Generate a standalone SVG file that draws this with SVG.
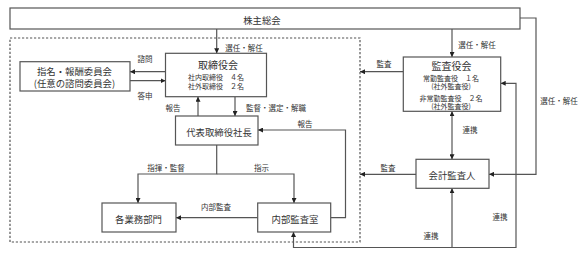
<svg xmlns="http://www.w3.org/2000/svg" width="585" height="259" viewBox="0 0 585 259">
<style>
text{font-family:"Noto Sans CJK JP","Noto Sans",sans-serif;fill:#333;text-anchor:middle;dominant-baseline:central}
.box{fill:#fff;stroke:#555;stroke-width:1.2}
.ln{fill:none;stroke:#555;stroke-width:1.2}
.dash{fill:none;stroke:#555;stroke-width:1.2;stroke-dasharray:2.2 1.8}
.n{font-size:9.4px}
.t{font-size:10px}
.s{font-size:7px}
.lb{font-size:7.5px}
</style>
<defs>
<marker id="ah" markerWidth="5" markerHeight="5" refX="5" refY="2.5" orient="auto-start-reverse" markerUnits="userSpaceOnUse">
<path d="M0,0 L5,2.5 L0,5 Z" fill="#222"/>
</marker>
</defs>
<rect width="585" height="259" fill="#fff"/>
<rect class="dash" x="10" y="38" width="350" height="204"/>
<g id="connectors">
<path class="ln" d="M216.7,29 V53.3" marker-end="url(#ah)"/>
<path class="ln" d="M452,29 V57" marker-end="url(#ah)"/>
<path class="ln" d="M520,18 H536 V174.3 H489" marker-end="url(#ah)"/>
<path class="ln" d="M165.5,71.7 H130" marker-end="url(#ah)"/>
<path class="ln" d="M130,80.7 H165.5" marker-end="url(#ah)"/>
<path class="ln" d="M198,116 V96.7" marker-end="url(#ah)"/>
<path class="ln" d="M235,96.7 V116" marker-end="url(#ah)"/>
<path class="ln" d="M330.7,217.7 H345.5 V130 H258" marker-end="url(#ah)"/>
<path class="ln" d="M216.7,145 V174 H138 V203" marker-end="url(#ah)"/>
<path class="ln" d="M216.7,174 H294 V203" marker-end="url(#ah)"/>
<path class="ln" d="M257.7,217.7 H176" marker-end="url(#ah)"/>
<path class="ln" d="M403.3,71.7 H360" marker-end="url(#ah)"/>
<path class="ln" d="M452,111.3 V159.3" marker-start="url(#ah)" marker-end="url(#ah)"/>
<path class="ln" d="M416,174.3 H360" marker-end="url(#ah)"/>
<path class="ln" d="M452,247.5 H293.5 V232" marker-end="url(#ah)"/>
<path class="ln" d="M452,247.5 V188.3" marker-end="url(#ah)"/>
<path class="ln" d="M452,247.5 H516 V83.3 H500.7" marker-end="url(#ah)"/>
<text class="lb" x="244" y="47">選任・解任</text>
<text class="lb" x="477" y="44">選任・解任</text>
<text class="lb" x="559" y="100">選任・解任</text>
<text class="lb" x="145" y="58">諮問</text>
<text class="lb" x="145" y="95">答申</text>
<text class="lb" x="173" y="107">報告</text>
<text class="lb" x="276" y="107">監督・選定・解職</text>
<text class="lb" x="305" y="123">報告</text>
<text class="lb" x="166" y="167">指揮・監督</text>
<text class="lb" x="261.5" y="167">指示</text>
<text class="lb" x="216" y="206">内部監査</text>
<text class="lb" x="384" y="63">監査</text>
<text class="lb" x="388" y="167">監査</text>
<text class="lb" x="470" y="129">連携</text>
<text class="lb" x="431" y="235">連携</text>
<text class="lb" x="500" y="216">連携</text>
</g>
<g id="shareholders">
<rect class="box" x="10" y="8" width="510" height="21"/>
<text class="n" x="262" y="19.5">株主総会</text>
</g>
<g id="board">
<rect class="box" x="165.5" y="53.3" width="101" height="43.4"/>
<text class="t" x="218" y="64.5">取締役会</text>
<text class="s" x="216" y="77">社内取締役　４名</text>
<text class="s" x="216" y="86">社外取締役　２名</text>
</g>
<g id="committee">
<rect class="box" x="20" y="61.7" width="110" height="29.3"/>
<text class="n" x="74.5" y="70.5">指名・報酬委員会</text>
<text class="n" x="74.5" y="83">(任意の諮問委員会)</text>
</g>
<g id="president">
<rect class="box" x="175.5" y="116" width="82.5" height="29"/>
<text class="n" x="219" y="131.5">代表取締役社長</text>
</g>
<g id="departments">
<rect class="box" x="102" y="203" width="74" height="29"/>
<text class="n" x="138.5" y="218.5">各業務部門</text>
</g>
<g id="internal-audit">
<rect class="box" x="257.7" y="203" width="73" height="29"/>
<text class="n" x="295" y="218.5">内部監査室</text>
</g>
<g id="auditors-board">
<rect class="box" x="403.3" y="57" width="97.4" height="54.3"/>
<text class="t" x="451.5" y="65">監査役会</text>
<text class="s" x="451" y="77.5">常勤監査役　１名</text>
<text class="s" x="451" y="86">(社外監査役)</text>
<text class="s" x="451" y="97.5">非常勤監査役　２名</text>
<text class="s" x="451" y="106">(社外監査役)</text>
</g>
<g id="accounting-auditor">
<rect class="box" x="416" y="159.3" width="73" height="29"/>
<text class="n" x="452" y="175">会計監査人</text>
</g>
</svg>
